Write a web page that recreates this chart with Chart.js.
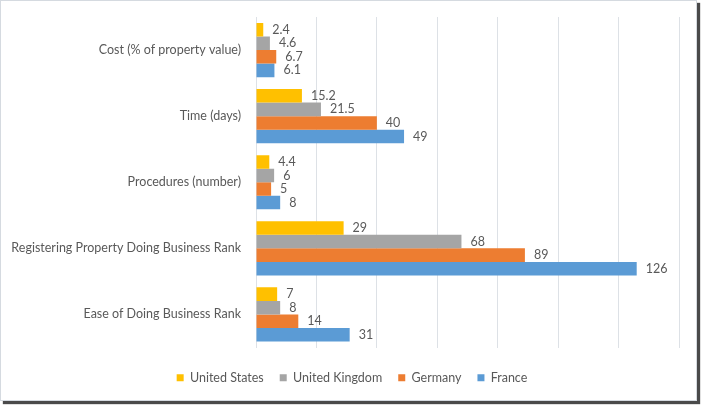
<!DOCTYPE html>
<html>
<head>
<meta charset="utf-8">
<script src="https://cdn.jsdelivr.net/npm/chart.js@4.4.0/dist/chart.umd.min.js"></script>
<style>
    body { margin: 0; background: #ffffff; }
    #frame {
        position: absolute; left: 0; top: 0;
        width: 695px; height: 399px;
        border: 1px solid #d5dae0;
        box-shadow: 3px 3px 1px #4a4a4a;
        background: #fff;
    }
</style>
</head>
<body>
<div id="frame"><canvas id="regChart" width="695" height="399"></canvas></div>
<script>
const categories = [
    'Cost (% of property value)',
    'Time (days)',
    'Procedures (number)',
    'Registering Property Doing Business Rank',
    'Ease of Doing Business Rank'
];
const seriesNames = ['United States', 'United Kingdom', 'Germany', 'France'];
const unitedStates = [2.4, 15.2, 4.4, 29, 7];
const unitedKingdom = [4.6, 21.5, 6, 68, 8];
const germany = [6.7, 40, 5, 89, 14];
const france = [6.1, 49, 8, 126, 31];
const seriesColors = ['#FFC000', '#A5A5A5', '#ED7D31', '#5B9BD5'];

const textColor = '#595959';
const fontFamily = 'Lato, "Noto Sans", sans-serif';

// labels at the end of each bar
const barLabels = {
    id: 'barLabels',
    afterLayout(chart) {
        // legend sits a little right of the canvas centre in the original
        chart.legend.left += 12;
        chart.legend.right += 12;
    },
    afterDatasetsDraw(chart) {
        const ctx = chart.ctx;
        ctx.save();
        ctx.font = '12.5px ' + fontFamily;
        ctx.fillStyle = textColor;
        ctx.textAlign = 'left';
        ctx.textBaseline = 'middle';
        chart.data.datasets.forEach((ds, i) => {
            chart.getDatasetMeta(i).data.forEach((bar, j) => {
                ctx.fillText(String(ds.data[j]), bar.x + 9, bar.y);
            });
        });
        ctx.restore();
    }
};

const allSeries = [unitedStates, unitedKingdom, germany, france];

new Chart(document.getElementById('regChart'), {
    type: 'bar',
    data: {
        labels: categories,
        datasets: allSeries.map((values, i) => ({
            label: seriesNames[i],
            data: values,
            backgroundColor: seriesColors[i],
            borderWidth: 0,
            barPercentage: 1.0,
            categoryPercentage: 0.82
        }))
    },
    options: {
        indexAxis: 'y',
        responsive: false,
        animation: false,
        layout: { padding: { top: 16, right: 17, left: 0, bottom: 6 } },
        plugins: {
            legend: {
                position: 'bottom',
                labels: {
                    boxWidth: 7,
                    boxHeight: 7,
                    padding: 16,
                    color: textColor,
                    font: { family: fontFamily, size: 12.5 }
                }
            },
            tooltip: { enabled: false }
        },
        scales: {
            x: {
                min: 0,
                max: 140,
                afterFit(scale) { scale.height = 8; },
                ticks: { display: false, stepSize: 20 },
                grid: { color: '#dde1e6', drawTicks: false },
                border: { display: false }
            },
            y: {
                afterFit(scale) { scale.width = 255; },
                ticks: { color: textColor, padding: 7, font: { family: fontFamily, size: 12.5 } },
                grid: { display: false },
                border: { display: false }
            }
        }
    },
    plugins: [barLabels]
});
</script>
</body>
</html>
